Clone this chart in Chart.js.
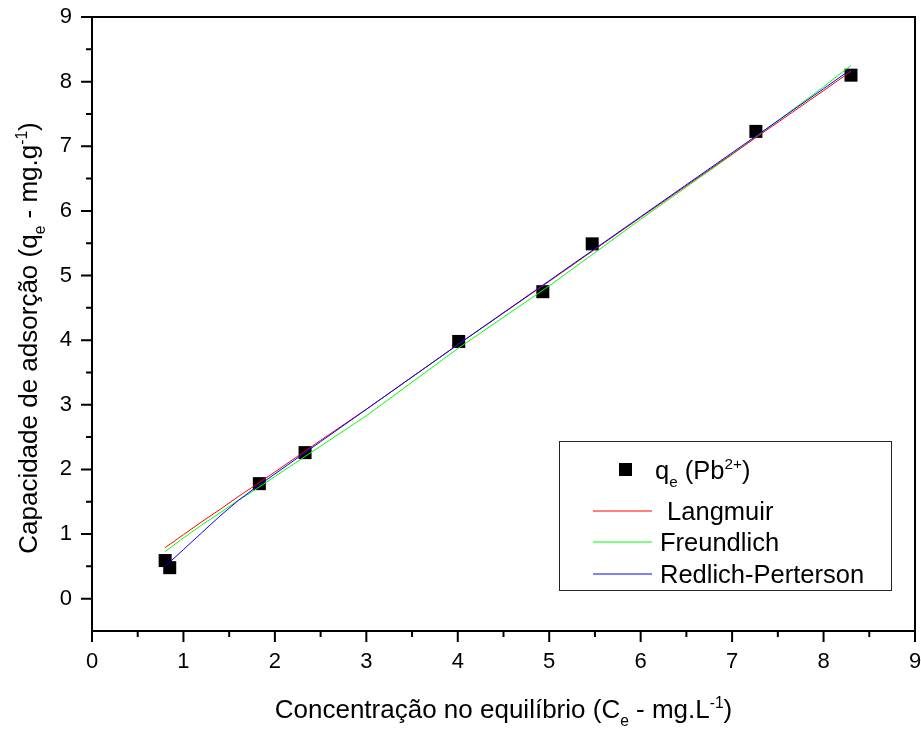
<!DOCTYPE html>
<html>
<head>
<meta charset="utf-8">
<script src="https://cdn.jsdelivr.net/npm/chart.js@4.4.1/dist/chart.umd.min.js"></script>
<style>
    html, body { margin: 0; padding: 0; background: #fff; overflow: hidden; }
    #wrap { width: 921px; height: 729px; position: relative; }
    #myChart { display: block; }
</style>
</head>
<body>
<div id="wrap"><canvas id="myChart"></canvas></div>
<script>
// Measured points (Ce, qe)
const ceValues = [0.80, 0.85, 1.83, 2.33, 4.01, 4.93, 5.47, 7.26, 8.30];
const qeValues = [0.59, 0.48, 1.78, 2.26, 3.98, 4.75, 5.49, 7.23, 8.10];

// Fitted isotherm curves
const fitX = [0.8, 1.0, 1.2, 1.4, 1.6, 1.8, 2.0, 2.5, 3.0, 4.0, 5.0, 6.0, 7.0, 8.0, 8.3];
const langmuirY = [0.79, 0.99, 1.19, 1.38, 1.58, 1.77, 1.96, 2.45, 2.93, 3.93, 4.91, 5.90, 6.88, 7.86, 8.16];
const freundlichY = [0.73, 0.94, 1.14, 1.33, 1.52, 1.70, 1.89, 2.36, 2.83, 3.87, 4.84, 5.87, 6.87, 7.92, 8.25];
const redlichY = [0.50, 0.76, 1.02, 1.28, 1.52, 1.73, 1.93, 2.43, 2.93, 3.93, 4.92, 5.91, 6.90, 7.89, 8.19];

const xTicks = [0, 1, 2, 3, 4, 5, 6, 7, 8, 9];
const yTicks = [0, 1, 2, 3, 4, 5, 6, 7, 8, 9];

const FONT = '"Liberation Sans", Arial, sans-serif';
const RED = '#ff0000';
const GREEN = '#00ff00';
const BLUE = '#0000ff';

function toPoints(xs, ys) {
    return xs.map((x, i) => ({ x: x, y: ys[i] }));
}

// width of text made of normal / sub / sup parts
function richWidth(ctx, parts, size) {
    let w = 0;
    parts.forEach(p => {
        const s = p.s ? size * 0.6 : size;
        ctx.font = s + 'px ' + FONT;
        w += ctx.measureText(p.t).width;
    });
    return w;
}

function drawRich(ctx, parts, x, y, size) {
    let cx = x;
    parts.forEach(p => {
        let s = size, dy = 0;
        if (p.s === 'sub') { s = size * 0.6; dy = size * 0.32; }
        if (p.s === 'sup') { s = size * 0.6; dy = -size * 0.38; }
        ctx.font = s + 'px ' + FONT;
        ctx.fillText(p.t, cx, y + dy);
        cx += ctx.measureText(p.t).width;
    });
}

const framePlugin = {
    id: 'frame',
    afterDraw(chart) {
        const ctx = chart.ctx;
        const a = chart.chartArea;
        const xs = chart.scales.x;
        const ys = chart.scales.y;
        ctx.save();
        ctx.strokeStyle = '#000';
        ctx.lineWidth = 2;
        ctx.strokeRect(a.left, a.top, a.right - a.left, a.bottom - a.top);

        // tick marks, major + minor
        ctx.beginPath();
        for (let v = 0; v <= 9; v += 0.5) {
            const len = (v % 1 === 0) ? 11 : 6;
            const px = xs.getPixelForValue(v);
            ctx.moveTo(px, a.bottom);
            ctx.lineTo(px, a.bottom + len);
        }
        for (let v = 0; v <= 9; v += 0.5) {
            const len = (v % 1 === 0) ? 11 : 6;
            const py = ys.getPixelForValue(v);
            ctx.moveTo(a.left, py);
            ctx.lineTo(a.left - len, py);
        }
        ctx.stroke();

        ctx.fillStyle = '#000';

        // x tick labels (drawn here so the last label doesn't shrink the plot)
        ctx.font = '22px ' + FONT;
        ctx.textAlign = 'center';
        ctx.textBaseline = 'alphabetic';
        xs.ticks.forEach(t => {
            ctx.fillText(String(t.value), xs.getPixelForValue(t.value), 668);
        });

        ctx.textAlign = 'left';

        // x title
        const xTitle = [
            { t: 'Concentração no equilíbrio (C' }, { t: 'e', s: 'sub' },
            { t: ' - mg.L' }, { t: '-1', s: 'sup' }, { t: ')' }
        ];
        const tsize = 26;
        const xw = richWidth(ctx, xTitle, tsize);
        drawRich(ctx, xTitle, (a.left + a.right) / 2 - xw / 2, 718, tsize);

        // y title
        const yTitle = [
            { t: 'Capacidade de adsorção (q' }, { t: 'e', s: 'sub' },
            { t: ' - mg.g' }, { t: '-1', s: 'sup' }, { t: ')' }
        ];
        const yw = richWidth(ctx, yTitle, tsize);
        ctx.save();
        ctx.translate(37, 338);
        ctx.rotate(-Math.PI / 2);
        drawRich(ctx, yTitle, -yw / 2, 0, tsize);
        ctx.restore();

        // legend
        ctx.lineWidth = 1;
        ctx.strokeStyle = '#222';
        ctx.strokeRect(559.5, 441.5, 332, 149);

        ctx.fillStyle = '#000';
        ctx.fillRect(619, 463, 13, 13);
        drawRich(ctx, [{ t: 'q' }, { t: 'e', s: 'sub' }, { t: ' (Pb' }, { t: '2+', s: 'sup' }, { t: ')' }], 655, 479, 25.5);

        const rows = [
            { label: ' Langmuir', y: 511, color: RED },
            { label: 'Freundlich', y: 542, color: GREEN },
            { label: 'Redlich-Perterson', y: 574, color: BLUE }
        ];
        rows.forEach(r => {
            ctx.strokeStyle = r.color;
            ctx.lineWidth = 1.2;
            ctx.beginPath();
            ctx.moveTo(593, r.y);
            ctx.lineTo(652, r.y);
            ctx.stroke();
            ctx.fillStyle = '#000';
            ctx.font = '25.5px ' + FONT;
            ctx.fillText(r.label, 660, r.y + 9);
        });
        ctx.restore();
    }
};

const ctx = document.getElementById('myChart').getContext('2d');
const chart = new Chart(ctx, {
    type: 'scatter',
    data: {
        datasets: [
            {
                label: 'qe (Pb2+)',
                data: toPoints(ceValues, qeValues),
                pointStyle: 'rect',
                pointRadius: 9.2,
                pointBackgroundColor: '#000',
                pointBorderColor: '#000',
                pointBorderWidth: 0,
                order: 4
            },
            {
                label: 'Langmuir',
                data: toPoints(fitX, langmuirY),
                showLine: true,
                borderColor: RED,
                borderWidth: 1,
                pointRadius: 0,
                order: 2
            },
            {
                label: 'Freundlich',
                data: toPoints(fitX, freundlichY),
                showLine: true,
                borderColor: GREEN,
                borderWidth: 1,
                pointRadius: 0,
                order: 3
            },
            {
                label: 'Redlich-Perterson',
                data: toPoints(fitX, redlichY),
                showLine: true,
                borderColor: BLUE,
                borderWidth: 1,
                pointRadius: 0,
                order: 1
            }
        ]
    },
    options: {
        responsive: true,
        maintainAspectRatio: false,
        animation: false,
        layout: {
            autoPadding: false,
            padding: { top: 17, right: 6, left: 0, bottom: 0 }
        },
        plugins: {
            legend: { display: false },
            tooltip: { enabled: false }
        },
        scales: {
            x: {
                type: 'linear',
                min: 0,
                max: 9,
                grid: { display: false, drawTicks: false },
                border: { display: false },
                afterBuildTicks: (scale) => { scale.ticks = xTicks.map(v => ({ value: v })); },
                afterFit: (scale) => {
                    scale.height = 98;
                    scale.paddingLeft = 0;
                    scale.paddingRight = 0;
                },
                ticks: { display: false }
            },
            y: {
                type: 'linear',
                min: -0.5,
                max: 9,
                grid: { display: false, drawTicks: false },
                border: { display: false },
                afterBuildTicks: (scale) => { scale.ticks = yTicks.map(v => ({ value: v })); },
                afterFit: (scale) => {
                    scale.width = 92;
                    scale.paddingTop = 0;
                    scale.paddingBottom = 0;
                },
                ticks: {
                    padding: 20,
                    color: '#000',
                    font: { family: FONT, size: 22 }
                }
            }
        }
    },
    plugins: [framePlugin]
});
</script>
</body>
</html>
